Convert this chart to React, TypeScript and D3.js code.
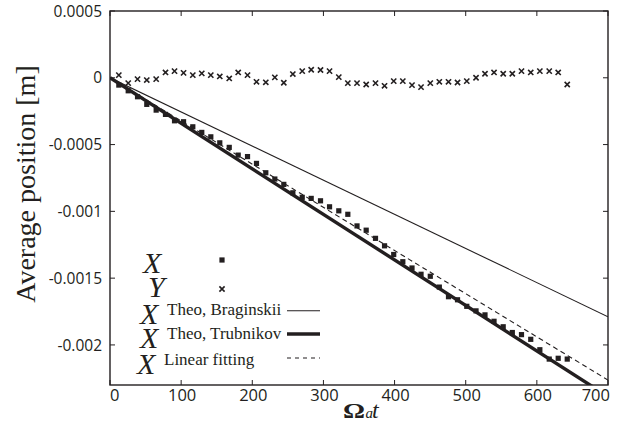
import React from 'react';
import * as d3 from 'd3';

const tValues = [12.4, 25.6, 38.7, 51.7, 64.9, 78.0, 90.7, 103.4, 116.4, 129.0, 141.7, 154.3, 167.6, 180.2, 193.3, 205.9, 219.0, 231.7, 244.3, 257.0, 270.2, 282.8, 295.9, 308.6, 321.6, 334.3, 347.2, 360.1, 373.2, 385.9, 398.8, 411.6, 424.5, 437.2, 450.2, 462.9, 475.8, 488.5, 501.5, 514.5, 527.1, 539.8, 552.7, 565.5, 578.4, 591.4, 604.2, 617.4, 630.0, 642.7];

const xData = [-0.0000546, -0.0000973, -0.000142, -0.000199, -0.000242, -0.000274, -0.000322, -0.000329, -0.000367, -0.000409, -0.000442, -0.000487, -0.000521, -0.000579, -0.00059, -0.000641, -0.000711, -0.000758, -0.000798, -0.000861, -0.000895, -0.000903, -0.000921, -0.000966, -0.000996, -0.001022, -0.001109, -0.001141, -0.001202, -0.001258, -0.001323, -0.001377, -0.001424, -0.001471, -0.001486, -0.001567, -0.001639, -0.001662, -0.001711, -0.001745, -0.001775, -0.001823, -0.001864, -0.001907, -0.001923, -0.001958, -0.002036, -0.002106, -0.0021, -0.002106];

const yData = [0.00002, -0.00004, -0.00001, -0.000017, -0.00001, 0.00004, 0.00005, 0.000037, 0.00002, 0.000033, 0.00002, 0.00001, -0.000005, 0.00004, 0.00002, -0.00003, -0.000034, 0.000003, -0.000037, 0.000028, 0.00005, 0.00006, 0.000058, 0.00005, 0.000005, -0.00004, -0.00004, -0.00005, -0.00004, -0.00006, -0.000025, -0.000025, -0.000055, -0.00007, -0.00004, -0.00003, -0.00003, -0.000035, -0.000025, 0, 0.00003, 0.00004, 0.00003, 0.00003, 0.00005, 0.00004, 0.00005, 0.00005, 0.00004, -0.00005];

const xTicks = [0, 100, 200, 300, 400, 500, 600, 700];
const yTicks = [0.0005, 0, -0.0005, -0.001, -0.0015, -0.002];
const yTickLabels = ['0.0005', '0', '-0.0005', '-0.001', '-0.0015', '-0.002'];

const braginskii: [number, number][] = [[0, 0], [700, -0.001789]];
const trubnikov: [number, number][] = [[0, 0], [700, -0.002386]];
const linearFit: [number, number][] = [[0, 0], [700, -0.002263]];

const INK = '#231f20';
const SERIF = '"Liberation Serif", serif';
const SANS = '"Open Sans", "Liberation Sans", sans-serif';

function Cross({ cx, cy, s = 2.6 }: { cx: number; cy: number; s?: number }) {
  return (
    <path
      d={`M${cx - s},${cy - s}L${cx + s},${cy + s}M${cx - s},${cy + s}L${cx + s},${cy - s}`}
      stroke={INK}
      strokeWidth={1.6}
      fill="none"
    />
  );
}

export default function App() {
  const W = 629, H = 428;
  const left = 110, right = 608, top = 11, bottom = 385;
  const x = d3.scaleLinear().domain([0, 700]).range([left, right]);
  const y = d3.scaleLinear().domain([-0.0023, 0.0005]).range([bottom, top]);
  const line = d3.line<[number, number]>().x(d => x(d[0])).y(d => y(d[1]));
  const sq = 5.2;

  return (
    <svg width={W} height={H} style={{ position: 'absolute', left: 0, top: 0, background: '#fff' }}>
      <defs>
        <clipPath id="plot">
          <rect x={left} y={top} width={right - left} height={bottom - top} />
        </clipPath>
      </defs>
      <rect x={0} y={0} width={W} height={H} fill="#fff" />

      <g clipPath="url(#plot)">
        <path d={line(braginskii) || ''} stroke={INK} strokeWidth={1.1} fill="none" />
        <path d={line(trubnikov) || ''} stroke={INK} strokeWidth={3.4} fill="none" />
        <path d={line(linearFit) || ''} stroke={INK} strokeWidth={1.1} strokeDasharray="5,3.5" fill="none" />
        {tValues.map((t, i) => (
          <rect key={'x' + i} x={x(t) - sq / 2} y={y(xData[i]) - sq / 2} width={sq} height={sq} fill={INK} />
        ))}
        {tValues.map((t, i) => (
          <Cross key={'y' + i} cx={x(t)} cy={y(yData[i])} />
        ))}
      </g>

      {/* frame */}
      <rect x={left} y={top} width={right - left} height={bottom - top} fill="none" stroke={INK} strokeWidth={1.4} />

      {/* ticks */}
      {xTicks.map(t => (
        <g key={'xt' + t}>
          <line x1={x(t)} x2={x(t)} y1={bottom} y2={bottom - 5} stroke={INK} strokeWidth={1} />
          <line x1={x(t)} x2={x(t)} y1={top} y2={top + 5} stroke={INK} strokeWidth={1} />
          <text
            x={t === 0 ? x(t) : t === 700 ? x(t) + 2 : x(t) + 1}
            y={401}
            fontFamily={SANS}
            fontSize={16.5}
            fill={INK}
            textAnchor={t === 0 ? 'start' : t === 700 ? 'end' : 'middle'}
          >
            {t}
          </text>
        </g>
      ))}
      {yTicks.map((v, i) => (
        <g key={'yt' + i}>
          <line x1={left} x2={left + 5} y1={y(v)} y2={y(v)} stroke={INK} strokeWidth={1} />
          <line x1={right} x2={right - 5} y1={y(v)} y2={y(v)} stroke={INK} strokeWidth={1} />
          <text
            x={102}
            y={y(v)}
            dy="0.36em"
            fontFamily={SANS}
            fontSize={15.5}
            fill={INK}
            textAnchor="end"
          >
            {yTickLabels[i]}
          </text>
        </g>
      ))}

      {/* axis titles */}
      <text
        transform="translate(35,184) rotate(-90)"
        textAnchor="middle"
        fontFamily={SERIF}
        fontSize={28}
        fill={INK}
      >
        Average position [m]
      </text>
      <text x={343} y={418} fontFamily={SERIF} fontWeight="bold" fontSize={21} textLength={22} lengthAdjust="spacingAndGlyphs" fill={INK}>
        Ω
      </text>
      <text x={365.5} y={418} fontFamily={SERIF} fontStyle="italic" fontSize={15} fill={INK}>
        a
      </text>
      <text x={372} y={418} fontFamily={SERIF} fontStyle="italic" fontSize={24} fill={INK}>
        t
      </text>

      {/* legend */}
      <g fill={INK}>
        <text x={143} y={273} fontFamily={SERIF} fontStyle="italic" fontSize={30}>X</text>
        <rect x={222 - sq / 2} y={260 - sq / 2} width={sq} height={sq} />
        <text x={148} y={297} fontFamily={SERIF} fontStyle="italic" fontSize={30}>Y</text>
        <Cross cx={222} cy={289} />

        <text x={140} y={324} fontFamily={SERIF} fontStyle="italic" fontSize={30}>X</text>
        <text x={167} y={314.5} fontFamily={SERIF} fontSize={17}>Theo, Braginskii</text>
        <line x1={287} x2={320} y1={310.7} y2={310.7} stroke={INK} strokeWidth={1.1} />

        <text x={140} y={348} fontFamily={SERIF} fontStyle="italic" fontSize={30}>X</text>
        <text x={167} y={338.5} fontFamily={SERIF} fontSize={17}>Theo, Trubnikov</text>
        <line x1={287} x2={320} y1={334} y2={334} stroke={INK} strokeWidth={3.4} />

        <text x={137} y={374} fontFamily={SERIF} fontStyle="italic" fontSize={30}>X</text>
        <text x={164} y={364.5} fontFamily={SERIF} fontSize={17}>Linear fitting</text>
        <line x1={287} x2={320} y1={358} y2={358} stroke={INK} strokeWidth={1.1} strokeDasharray="4,4" />
      </g>
    </svg>
  );
}
